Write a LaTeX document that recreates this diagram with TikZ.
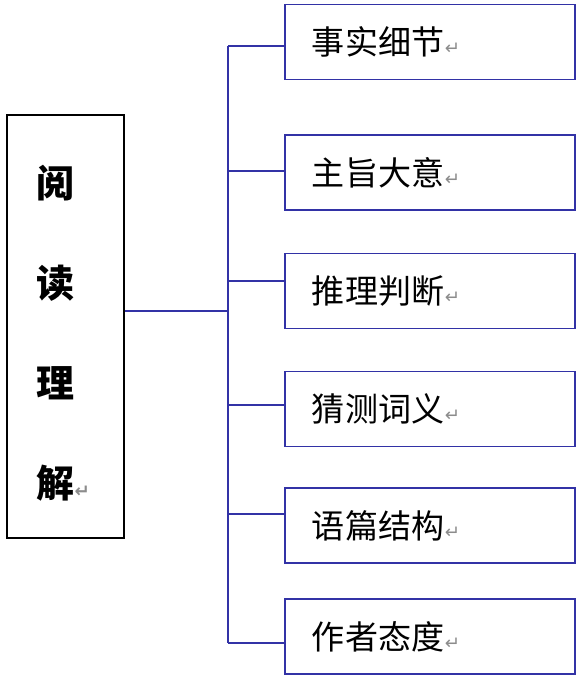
\documentclass[tikz,border=0pt]{standalone}
\usepackage{fontspec}
\usetikzlibrary{positioning}
\newfontfamily\cjk{Noto Sans CJK SC}
\newfontfamily\marca{DejaVu Sans}
\definecolor{Azul}{HTML}{3232A6}
\definecolor{Gris}{HTML}{8C8C8C}
\newcommand{\enter}{{\marca\color{Gris}\fontsize{13}{13}\selectfont\kern.5pt\char"21B5}}
\begin{document}
\begin{tikzpicture}[x=.025cm,y=-.025cm,
  tipo/.style={draw=Azul,line width=1.3pt,minimum height=1.875cm,text width=5.9cm,
    inner xsep=.675cm,align=left,font=\cjk\fontsize{23.5}{23.5}\selectfont},
  rama/.style={Azul,line width=1.2pt}]
\useasboundingbox (0,0) rectangle (580,679);
\node[draw,line width=1.3pt,minimum width=2.925cm,minimum height=10.575cm] (yuedu) at (65.5,326.5) {};
\node[font=\cjk\bfseries\fontsize{27}{71}\selectfont,align=center] (tit) at (55,333)
  {阅\\读\\理\\解\rlap{\enter}};
\node[tipo] (b1) at (430,42) {事实细节\enter};
\node[tipo] (b2) at (430,172.5) {主旨大意\enter};
\node[tipo] (b3) at (430,291) {推理判断\enter};
\node[tipo] (b4) at (430,409) {猜测词义\enter};
\node[tipo] (b5) at (430,525.5) {语篇结构\enter};
\node[tipo] (b6) at (430,636.5) {作者态度\enter};
\coordinate (hub) at (228,311);
\coordinate (t1) at (228,46);
\coordinate (t2) at (228,171);
\coordinate (t3) at (228,281);
\coordinate (t4) at (228,405);
\coordinate (t5) at (228,514);
\coordinate (t6) at (228,643);
\draw[rama] (yuedu.east |- hub)--(hub);
\draw[rama] (t1)--(t6);
\foreach \i in {1,...,6} \draw[rama] (t\i)--(t\i -| b\i.west);
\end{tikzpicture}
\end{document}
